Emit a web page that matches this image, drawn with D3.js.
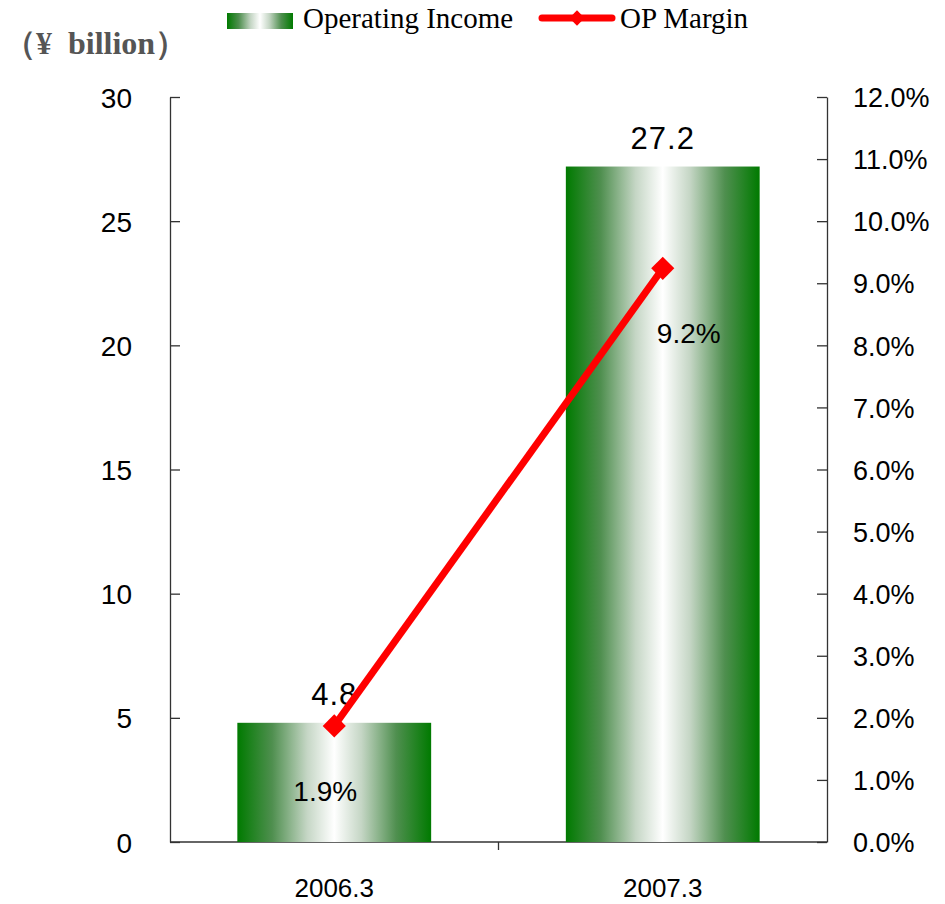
<!DOCTYPE html>
<html>
<head>
<meta charset="utf-8">
<script src="https://cdn.jsdelivr.net/npm/d3@7"></script>
<style>
  body { margin: 0; background: #fff; }
  svg text { font-family: "Liberation Sans", Arial, sans-serif; }
</style>
</head>
<body>
<script>
// Data
var periods = ['2006.3', '2007.3'];
var income = [4.8, 27.2];
var margin = [1.87, 9.24];
var incomeTicks = [0, 5, 10, 15, 20, 25, 30];
var marginTicks = [0, 1, 2, 3, 4, 5, 6, 7, 8, 9, 10, 11, 12];

var width = 945,
  height = 904;

var plotLeft = 170, plotRight = 827, plotTop = 97, plotBottom = 842;

var svg = d3.select('body')
  .append('svg')
  .attr('width', width)
  .attr('height', height);

// Gradient for bars
var grad = svg.append('defs').append('linearGradient')
  .attr('id', 'barGrad')
  .attr('x1', '0%').attr('x2', '100%')
  .attr('y1', '0%').attr('y2', '0%');
[[0, '#007a00'], [0.18, '#4f8f4f'], [0.36, '#c5d6c5'], [0.5, '#ffffff'],
 [0.64, '#c5d6c5'], [0.82, '#4f8f4f'], [1, '#007a00']].forEach(function(s) {
  grad.append('stop').attr('offset', s[0]).attr('stop-color', s[1]);
});

var x = d3.scaleBand()
  .domain(periods)
  .range([plotLeft, plotRight])
  .paddingInner(0.41)
  .paddingOuter(0.205);

var y = d3.scaleLinear().domain([0, 30]).range([plotBottom, plotTop]);
var y2 = d3.scaleLinear().domain([0, 12]).range([plotBottom, plotTop]);

// Left axis
var leftAxis = svg.append('g')
  .attr('transform', 'translate(' + plotLeft + ',0)')
  .call(d3.axisLeft(y).tickValues(incomeTicks).tickSize(-10).tickPadding(38).tickSizeOuter(0));
leftAxis.selectAll('text').style('font-size', '28px').attr('fill', '#000').attr('dy', '0.36em');
leftAxis.selectAll('line, path').attr('stroke', '#333').attr('stroke-width', 1.3);

// Right axis
var rightAxis = svg.append('g')
  .attr('transform', 'translate(' + plotRight + ',0)')
  .call(d3.axisRight(y2).tickValues(marginTicks).tickSize(-10).tickPadding(26).tickSizeOuter(0)
    .tickFormat(function(d) { return d.toFixed(1) + '%'; }));
rightAxis.selectAll('text').style('font-size', '27px').attr('fill', '#000').attr('dy', '0.36em');
rightAxis.selectAll('line, path').attr('stroke', '#333').attr('stroke-width', 1.3);

// Bottom axis
svg.append('line')
  .attr('x1', plotLeft).attr('x2', plotRight)
  .attr('y1', plotBottom).attr('y2', plotBottom)
  .attr('stroke', '#333').attr('stroke-width', 1.3);
var mid = (x(periods[0]) + x.bandwidth() + x(periods[1])) / 2;
svg.append('line')
  .attr('x1', mid).attr('x2', mid)
  .attr('y1', plotBottom).attr('y2', plotBottom + 8)
  .attr('stroke', '#333').attr('stroke-width', 1.3);

svg.selectAll('.cat')
  .data(periods)
  .enter()
  .append('text')
  .attr('class', 'cat')
  .attr('x', function(d) { return x(d) + x.bandwidth() / 2; })
  .attr('y', 897)
  .attr('text-anchor', 'middle')
  .style('font-size', '26px')
  .text(function(d) { return d; });

// Bars
svg.selectAll('.bar')
  .data(income)
  .enter()
  .append('rect')
  .attr('class', 'bar')
  .attr('x', function(d, i) { return x(periods[i]); })
  .attr('width', x.bandwidth())
  .attr('y', function(d) { return y(d); })
  .attr('height', function(d) { return plotBottom - y(d); })
  .attr('fill', 'url(#barGrad)');

svg.selectAll('.barLabel')
  .data(income)
  .enter()
  .append('text')
  .attr('class', 'barLabel')
  .attr('x', function(d, i) { return x(periods[i]) + x.bandwidth() / 2; })
  .attr('y', function(d) { return y(d) - 18; })
  .attr('text-anchor', 'middle')
  .style('font-size', '31px')
  .style('letter-spacing', '1px')
  .text(function(d) { return d.toFixed(1); });

// Margin line
var line = d3.line()
  .x(function(d, i) { return x(periods[i]) + x.bandwidth() / 2; })
  .y(function(d) { return y2(d); });

svg.append('path')
  .datum(margin)
  .attr('d', line)
  .attr('fill', 'none')
  .attr('stroke', '#ff0000')
  .attr('stroke-width', 7);

var diamond = d3.symbol().type(d3.symbolDiamond2).size(340);
svg.selectAll('.pt')
  .data(margin)
  .enter()
  .append('path')
  .attr('class', 'pt')
  .attr('d', diamond)
  .attr('transform', function(d, i) {
    return 'translate(' + (x(periods[i]) + x.bandwidth() / 2) + ',' + y2(d) + ')';
  })
  .attr('fill', '#ff0000');

svg.selectAll('.ptLabel')
  .data(margin)
  .enter()
  .append('text')
  .attr('class', 'ptLabel')
  .attr('x', function(d, i) { return x(periods[i]) + x.bandwidth() / 2 + (i === 0 ? -9 : 26); })
  .attr('y', function(d) { return y2(d) + 75; })
  .attr('text-anchor', 'middle')
  .style('font-size', '28px')
  .text(function(d) { return d.toFixed(1) + '%'; });

// Unit title
svg.append('text')
  .attr('x', 4)
  .attr('y', 54)
  .attr('fill', '#555')
  .style('font-family', '"Liberation Serif", "Times New Roman", serif')
  .style('font-weight', 'bold')
  .style('font-size', '32px')
  .style('white-space', 'pre')
  .text('（¥  billion）');

// Legend
var legend = svg.append('g');
legend.append('rect')
  .attr('x', 227).attr('y', 13)
  .attr('width', 66).attr('height', 16)
  .attr('fill', 'url(#barGrad)');
legend.append('text')
  .attr('x', 303).attr('y', 28)
  .style('font-family', '"Liberation Serif", "Times New Roman", serif')
  .style('font-size', '29px')
  .text('Operating Income');
legend.append('line')
  .attr('x1', 542).attr('x2', 612)
  .attr('y1', 18).attr('y2', 18)
  .attr('stroke', '#ff0000').attr('stroke-width', 7)
  .attr('stroke-linecap', 'round');
legend.append('path')
  .attr('d', d3.symbol().type(d3.symbolDiamond2).size(150))
  .attr('transform', 'translate(577,18)')
  .attr('fill', '#ff0000');
legend.append('text')
  .attr('x', 620).attr('y', 28)
  .style('font-family', '"Liberation Serif", "Times New Roman", serif')
  .style('font-size', '29px')
  .text('OP Margin');
</script>
</body>
</html>
